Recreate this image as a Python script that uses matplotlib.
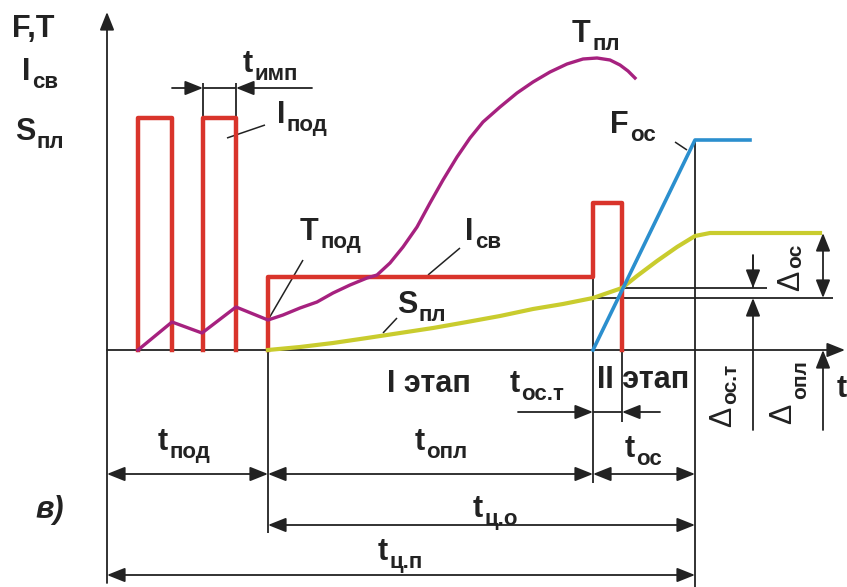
import matplotlib
matplotlib.use('Agg')
import matplotlib.pyplot as plt

plt.rcParams['font.family'] = ['Liberation Sans', 'DejaVu Sans']

# key moments of the cycle (time units) and levels
t_pod = 161      # end of preheating
t_opl = 486      # end of flashing
t_ost = 515      # end of current at upset
t_cyc = 588      # end of cycle
s_opl = 52       # shortening by flashing
s_ost = 62       # shortening under current
s_end = 117      # total shortening

# preheat pulses I_под (two separate pulses)
pulse1_t = [31, 31, 65, 65]
pulse2_t = [96, 96, 129, 129]
pulse_i = [0, 232, 232, 0]

# welding current I_св
weld_t = [161, 161, 486, 486, 515, 515]
weld_i = [0, 73, 73, 147, 147, 0]

# temperature T
temp_t = [31, 65, 95, 129, 161, 176, 193, 210, 226, 243, 260, 270, 283, 296, 310,
          323, 336, 350, 363, 376, 393, 410, 426, 443, 460, 476, 490, 503, 513, 521, 528]
temp_v = [0, 28, 17, 43, 30, 35, 42, 48, 57, 65, 72, 75, 87, 103, 123,
          147, 170, 193, 212, 228, 243, 257, 268, 278, 286, 291, 292, 290, 285, 279, 272]

# shortening S_пл
shr_t = [161, 193, 226, 260, 293, 326, 360, 393, 426, 456, 486, 515, 530, 550, 570, 588, 603, 713]
shr_v = [0, 3, 7, 12, 17, 22, 28, 34, 41, 46, 52, 62, 74, 89, 103, 114, 117, 117]

# upset force F_ос
force_t = [486, 588, 643]
force_v = [0, 210, 210]

ink = '#222222'
red = '#d9342b'
mag = '#a6217f'
yel = '#c9cc2e'
blu = '#2b8fce'

fig = plt.figure(figsize=(8.47, 5.87), dpi=100)
ax = fig.add_axes([0, 0, 1, 1])
ax.set_xlim(-107, 740)
ax.set_ylim(-237, 350)
ax.axis('off')


def line(xs, ys, lw=1.3):
    ax.plot(xs, ys, color=ink, lw=lw, solid_capstyle='butt', zorder=2)


def arrow(x0, y0, x1, y1, style='-|>'):
    ax.annotate('', xy=(x1, y1), xytext=(x0, y0),
                arrowprops=dict(arrowstyle=style + ',head_length=0.55,head_width=0.22',
                                color=ink, lw=1.3, shrinkA=0, shrinkB=0,
                                mutation_scale=20), zorder=3)


def lab(x, y, main, sub='', size=22, subsize=16, dy=-4.5):
    t = ax.text(x, y, main, fontsize=size, fontweight='bold', ha='left',
                va='baseline', color=ink, zorder=5)
    if sub:
        ax.annotate(sub, xy=(1, 0), xycoords=t, xytext=(1, dy),
                    textcoords='offset points', fontsize=subsize,
                    fontweight='bold', ha='left', va='bottom', color=ink, zorder=5)
    return t


# axes
arrow(0, -233, 0, 338)
arrow(0, 0, 738, 0)

# construction lines
line([t_pod, t_pod], [0, -183])
line([t_opl, t_opl], [73, -133])
line([t_ost, t_ost], [0, -72])
line([t_cyc, t_cyc], [210, -237])
line([t_opl, 726], [s_opl, s_opl])
line([t_ost, 660], [s_ost, s_ost])

# curves
ax.plot(pulse1_t, pulse_i, color=red, lw=3.2, zorder=4)
ax.plot(pulse2_t, pulse_i, color=red, lw=3.2, zorder=4)
ax.plot(weld_t, weld_i, color=red, lw=3.2, zorder=4)
ax.plot(shr_t, shr_v, color=yel, lw=3, zorder=4)
ax.plot(force_t, force_v, color=blu, lw=2.6, zorder=4)
ax.plot(temp_t, temp_v, color=mag, lw=2.4, zorder=4)

# t_имп
line([96, 96], [232, 267])
line([129, 129], [232, 267])
line([96, 129], [262, 262])
arrow(65, 262, 96, 262)
arrow(205, 262, 129, 262)

# t_ос.т
line([t_opl, t_ost], [-62, -62])
arrow(411, -62, t_opl, -62)
arrow(553, -62, t_ost, -62)

# time dimensions
arrow(0, -124, t_pod, -124, '<|-|>')
arrow(t_pod, -124, t_opl, -124, '<|-|>')
arrow(t_opl, -124, t_cyc, -124, '<|-|>')
arrow(t_pod, -175, t_cyc, -175, '<|-|>')
arrow(0, -225, t_cyc, -225, '<|-|>')

# shortening dimensions
line([646, 646], [95, s_ost])
arrow(646, 95, 646, s_ost)
arrow(646, -80, 646, s_opl)
arrow(716, s_end, 716, s_opl, '<|-|>')
arrow(716, -80, 716, 0)

# leaders
line([120, 158], [212, 225], lw=1.1)
line([161, 196], [30, 90], lw=1.1)
line([321, 353], [75, 102], lw=1.1)
line([276, 290], [17, 32], lw=1.1)
line([568, 580], [208, 200], lw=1.1)

# labels
lab(-95, 313, 'F,T')
lab(-85, 270, 'I', 'св')
lab(-92, 210, 'S', 'пл')
lab(465, 308, 'T', 'пл')
lab(136, 278, 't', 'имп')
lab(170, 227, 'I', 'под')
lab(503, 217, 'F', 'ос')
lab(193, 110, 'T', 'под')
lab(358, 110, 'I', 'св')
lab(290, 37, 'S', 'пл')
lab(280, -42, 'I этап')
lab(403, -42, 't', 'ос.т')
lab(490, -38, 'II этап')
lab(730, -47, 't')
lab(51, -100, 't', 'под')
lab(308, -100, 't', 'опл')
lab(518, -107, 't', 'ос')
lab(366, -167, 't', 'ц.о')
lab(271, -210, 't', 'ц.п')
ax.text(-72, -168, 'в)', fontsize=22, fontweight='bold', fontstyle='italic',
        ha='left', va='baseline', color=ink)

# rotated delta labels
for dx, dy, sx, sy, sub in [(616, -67, 624, -34, 'ос.т'),
                            (676, -64, 694, -30, 'опл'),
                            (684, 69, 689, 94, 'ос')]:
    ax.text(dx, dy, 'Δ', fontsize=22, rotation=90, ha='center', va='center', color=ink)
    ax.text(sx, sy, sub, fontsize=15, fontweight='bold', rotation=90,
            ha='center', va='center', color=ink)

fig.savefig('out.png', dpi=100)
